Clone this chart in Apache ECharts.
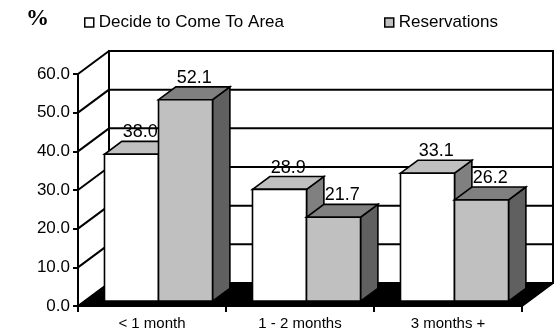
<!DOCTYPE html>
<html>
<head>
<meta charset="utf-8">
<script src="https://cdn.jsdelivr.net/npm/echarts@6/dist/echarts.min.js"></script>
<style>
  html, body { margin: 0; padding: 0; background: #fff; }
  #chart { width: 554px; height: 333px; }
</style>
</head>
<body>
<div id="chart"></div>
<script>
// Lead time before the trip, in percent
const categories = ['< 1 month', '1 - 2 months', '3 months +'];
const decideValues = [38.0, 28.9, 33.1];
const reservationValues = [52.1, 21.7, 26.2];
const seriesNames = ['Decide to Come To Area', 'Reservations'];

// Pseudo-3D projection: how far the back wall sits from the front plane
const DEPTH_DX = 31;
const DEPTH_DY = -23;
// Bars occupy this slice of the depth
const BAR_FRONT = 0.21;
const BAR_BACK = 0.77;
const BAR_RATIO = 0.365; // bar width as a share of one category band
const FONT = "'Liberation Sans', Arial, sans-serif";

const faceColors = [
  { front: '#ffffff', top: '#c0c0c0', side: '#808080' },
  { front: '#c0c0c0', top: '#808080', side: '#606060' }
];

const chart = echarts.init(document.getElementById('chart'), null, { renderer: 'canvas' });

// Back wall, left wall, floor and grid lines
function renderFrame(params, api) {
  const cs = params.coordSys;
  const x0 = cs.x, x1 = cs.x + cs.width;
  const yBottom = api.coord([0, 0])[1];
  const yTop = api.coord([0, 60])[1];
  const children = [];
  const line = { stroke: '#000', lineWidth: 2 };
  // back wall
  children.push({
    type: 'rect',
    shape: { x: x0 + DEPTH_DX, y: yTop + DEPTH_DY, width: cs.width, height: yBottom - yTop },
    style: { fill: '#fff', stroke: '#000', lineWidth: 2 }
  });
  // floor
  children.push({
    type: 'polygon',
    shape: { points: [[x0, yBottom], [x1, yBottom], [x1 + DEPTH_DX, yBottom + DEPTH_DY], [x0 + DEPTH_DX, yBottom + DEPTH_DY]] },
    style: { fill: '#000', stroke: '#000', lineWidth: 1 }
  });
  for (let v = 0; v <= 60; v += 10) {
    const y = api.coord([0, v])[1];
    // back wall grid line
    if (v > 0) {
      children.push({ type: 'line', shape: { x1: x0 + DEPTH_DX, y1: y + DEPTH_DY, x2: x1 + DEPTH_DX, y2: y + DEPTH_DY }, style: line });
    }
    // left wall diagonal
    children.push({ type: 'line', shape: { x1: x0, y1: y, x2: x0 + DEPTH_DX, y2: y + DEPTH_DY }, style: line });
  }
  // right floor edge
  children.push({ type: 'line', shape: { x1: x1, y1: yBottom, x2: x1 + DEPTH_DX, y2: yBottom + DEPTH_DY }, style: line });
  return { type: 'group', children: children };
}

function makeBarRenderer(seriesIdx) {
  const colors = faceColors[seriesIdx];
  return function (params, api) {
    const cat = api.value(0);
    const v = api.value(1);
    const base = api.coord([cat, 0]);
    const top = api.coord([cat, v]);
    const bw = api.size([1, 0])[0] * BAR_RATIO;
    const left = base[0] + (seriesIdx === 0 ? -bw : 0);
    const right = left + bw;
    const fx = BAR_FRONT * DEPTH_DX, fy = BAR_FRONT * DEPTH_DY;
    const bx = BAR_BACK * DEPTH_DX, by = BAR_BACK * DEPTH_DY;
    const ty = top[1], byBase = base[1];
    const edge = { stroke: '#000', lineWidth: 1.6, lineJoin: 'miter' };
    return {
      type: 'group',
      children: [
        {
          type: 'polygon',
          shape: { points: [[right + fx, ty + fy], [right + bx, ty + by], [right + bx, byBase + by], [right + fx, byBase + fy]] },
          style: Object.assign({ fill: colors.side }, edge)
        },
        {
          type: 'polygon',
          shape: { points: [[left + fx, ty + fy], [right + fx, ty + fy], [right + bx, ty + by], [left + bx, ty + by]] },
          style: Object.assign({ fill: colors.top }, edge)
        },
        {
          type: 'rect',
          shape: { x: left + fx, y: ty + fy, width: bw, height: byBase - ty },
          style: Object.assign({ fill: colors.front }, edge)
        },
        {
          type: 'text',
          style: {
            x: left + bw / 2 + (fx + bx) / 2,
            y: ty + by,
            text: v.toFixed(1),
            align: 'center',
            verticalAlign: 'bottom',
            fill: '#000',
            font: '18px ' + FONT
          }
        }
      ]
    };
  };
}

const legendText = { color: '#000', fontSize: 17, fontFamily: FONT };

chart.setOption({
  animation: false,
  backgroundColor: '#fff',
  title: {
    text: '%',
    left: 21,
    top: 3,
    textStyle: { fontFamily: "'Liberation Serif', 'Times New Roman', serif", fontWeight: 'bold', fontSize: 23, color: '#000' }
  },
  legend: [
    {
      left: 79, top: 9, icon: 'rect', itemWidth: 9, itemHeight: 9, itemGap: 10,
      textStyle: legendText,
      data: [{ name: seriesNames[0], itemStyle: { color: '#fff', borderColor: '#000', borderWidth: 1.5 } }]
    },
    {
      left: 379, top: 9, icon: 'rect', itemWidth: 9, itemHeight: 9, itemGap: 10,
      textStyle: legendText,
      data: [{ name: seriesNames[1], itemStyle: { color: '#c0c0c0', borderColor: '#000', borderWidth: 1.5 } }]
    }
  ],
  grid: { left: 78, right: 32, top: 74, bottom: 27, containLabel: false },
  xAxis: {
    type: 'category',
    data: categories,
    boundaryGap: true,
    axisLine: { show: true, lineStyle: { color: '#000', width: 2 } },
    axisTick: { show: true, length: 6, lineStyle: { color: '#000', width: 2 } },
    axisLabel: { color: '#000', fontSize: 15, fontFamily: FONT, margin: 10 },
    splitLine: { show: false }
  },
  yAxis: {
    type: 'value',
    min: 0,
    max: 60,
    interval: 10,
    axisLine: { show: true, lineStyle: { color: '#000', width: 2 } },
    axisTick: { show: true, length: 5, lineStyle: { color: '#000', width: 2 } },
    axisLabel: { color: '#000', fontSize: 17, fontFamily: FONT, margin: 8, formatter: v => v.toFixed(1) },
    splitLine: { show: false }
  },
  series: [
    {
      type: 'custom',
      name: 'frame',
      silent: true,
      z: 1,
      renderItem: renderFrame,
      data: [[0, 0]]
    },
    {
      type: 'custom',
      name: seriesNames[0],
      z: 3,
      itemStyle: { color: '#fff' },
      renderItem: makeBarRenderer(0),
      data: decideValues.map((v, i) => [i, v])
    },
    {
      type: 'custom',
      name: seriesNames[1],
      z: 3,
      itemStyle: { color: '#c0c0c0' },
      renderItem: makeBarRenderer(1),
      data: reservationValues.map((v, i) => [i, v])
    }
  ]
});
</script>
</body>
</html>
